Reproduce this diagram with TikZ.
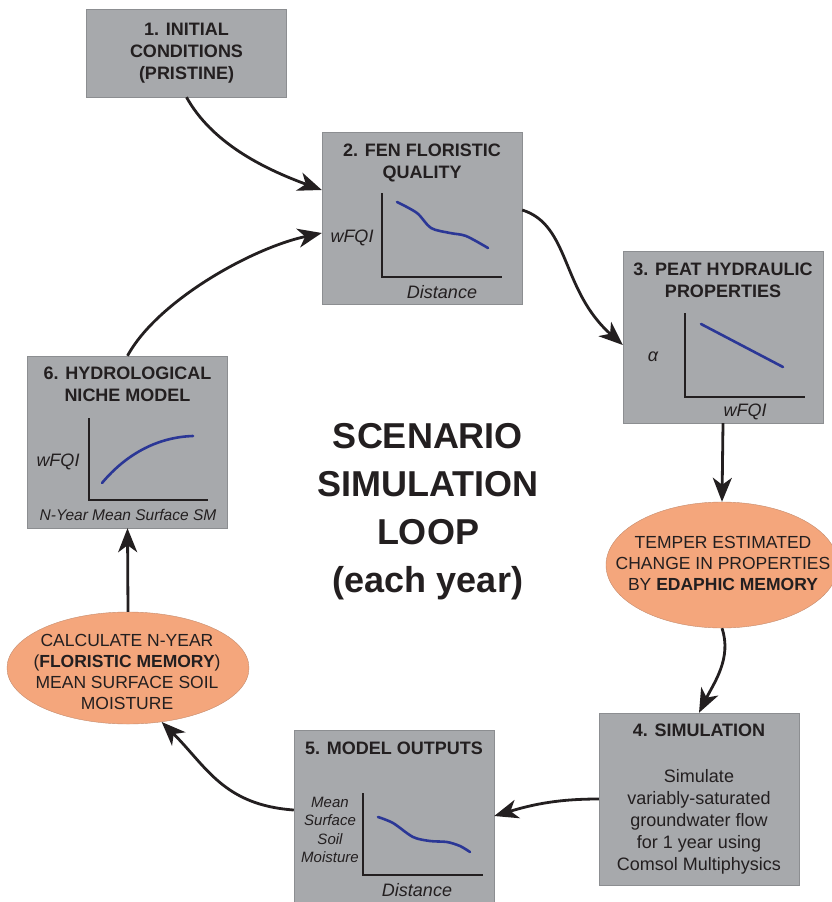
\documentclass[tikz,border=0pt]{standalone}
\usepackage{fontspec}
\setmainfont{Liberation Sans}
\usetikzlibrary{positioning,shapes.geometric,arrows.meta}
\definecolor{panel}{RGB}{167,169,172}
\definecolor{panelline}{RGB}{140,142,145}
\definecolor{memofill}{RGB}{244,166,124}
\definecolor{memoline}{RGB}{196,140,110}
\definecolor{trendblue}{RGB}{43,55,150}
\definecolor{ink}{RGB}{35,31,32}

\begin{document}
\begin{tikzpicture}[
  x=1pt, y=-1pt,
  box/.style={draw=panelline, fill=panel, minimum width=200pt, minimum height=172pt, inner sep=0pt},
  memo/.style={ellipse, draw=memoline, fill=memofill, inner sep=0pt},
  title/.style={font=\fontsize{18}{22}\selectfont\bfseries, text=ink, align=center, inner sep=0pt},
  body/.style={font=\fontsize{18}{22}\selectfont, text=ink, align=center, inner sep=0pt},
  memotext/.style={font=\fontsize{17.5}{21}\selectfont, text=ink, align=center, inner sep=0pt},
  lbl/.style={font=\fontsize{18}{22}\selectfont\itshape, text=ink, align=center, inner sep=0pt},
  axis/.style={line width=1.8pt, ink},
  trend/.style={line width=2.6pt, trendblue, line cap=round},
  arrow/.style={-{Stealth[length=24pt,width=19pt,inset=7pt]}, line width=2.8pt, ink}
]
\useasboundingbox (0,0) rectangle (832,902);

% panels
\node[box, minimum height=88pt] (init) at (186.5,53) {};
\node[box] (fen) at (422,218) {};
\node[box] (peat) at (723,337) {};
\node[box] (sim) at (699,799) {};
\node[box] (outputs) at (394,816) {};
\node[box] (niche) at (127.5,442) {};

% memory steps
\node[memo, minimum width=232pt, minimum height=126pt] (edaphic) at (722,565) {};
\node[memo, minimum width=242pt, minimum height=112pt] (floristic) at (128,668) {};

% titles
\node[title] (inittitle) at (init) {1. INITIAL\\CONDITIONS\\(PRISTINE)};
\node[title, below=12pt of fen.north] (fentitle) {2. FEN FLORISTIC\\QUALITY};
\node[title, below=12pt of peat.north] (peattitle) {3. PEAT HYDRAULIC\\PROPERTIES};
\node[title, below=11pt of sim.north] (simtitle) {4. SIMULATION};
\node[title, below=12pt of outputs.north] (outtitle) {5. MODEL OUTPUTS};
\node[title, below=11pt of niche.north] (nichetitle) {6. HYDROLOGICAL\\NICHE MODEL};

\node[body] (simtext) at (699,822) {Simulate\\variably-saturated\\groundwater flow\\for 1 year using\\Comsol Multiphysics};
\node[memotext] (edaphictext) at (723,563) {TEMPER ESTIMATED\\CHANGE IN PROPERTIES\\BY \textbf{EDAPHIC MEMORY}};
\node[memotext] (floristictext) at (127,672) {CALCULATE N-YEAR\\(\textbf{FLORISTIC MEMORY})\\MEAN SURFACE SOIL\\MOISTURE};

\node[font=\fontsize{36}{48}\selectfont\bfseries, text=ink, align=center] (loop) at (428,512) {SCENARIO\\SIMULATION\\LOOP\\(each year)};

% plot in panel 2
\draw[axis] (382,193) |- (502,277);
\draw[trend] plot[smooth] coordinates {(397,202) (417,213) (431,228) (450,233) (466,236) (488,248)};
\node[lbl] (fenylab) at (352,238) {wFQI};
\node[lbl] (fenxlab) at (442,292) {Distance};

% plot in panel 3
\draw[axis] (685,313) |- (805,397);
\draw[trend] (701,324) -- (783,367);
\node[lbl] (peatylab) at (653,357) {α};
\node[lbl] (peatxlab) at (745,412) {wFQI};

% plot in panel 5
\draw[axis] (363,793) |- (483,875);
\draw[trend] plot[smooth] coordinates {(378,817) (393,823) (413,837) (430,841) (447,842) (460,846) (470,852)};
\node[lbl, font=\fontsize{15}{18.5}\selectfont\itshape] (outylab) at (330,830) {Mean\\Surface\\Soil\\Moisture};
\node[lbl] (outxlab) at (417,890) {Distance};

% plot in panel 6
\draw[axis] (89,418) |- (208,500);
\draw[trend] (102,483) .. controls (128,452) and (160,437) .. (193,436);
\node[lbl] (nicheylab) at (58,462) {wFQI};
\node[lbl, font=\fontsize{15.5}{19}\selectfont\itshape] (nichexlab) at (128,515) {N-Year Mean Surface SM};

% loop arrows
\draw[arrow] (init.south) .. controls +(25,45) and +(-60,-22) .. ([yshift=28pt]fen.west);
\draw[arrow] ([yshift=8pt]fen.east) .. controls +(48,15) and +(-62,-55) .. ([yshift=-8pt]peat.west);
\draw[arrow] (peat.south) -- (edaphic.north);
\draw[arrow] (edaphic.south) .. controls +(10,30) and +(15,-30) .. (sim.north);
\draw[arrow] (sim.west) .. controls +(-40,0) and +(40,-12) .. (outputs.east);
\draw[arrow] ([yshift=6pt]outputs.west) .. controls +(-70,-5) and +(45,45) .. (floristic.-58);
\draw[arrow] (floristic.north) -- (niche.south);
\draw[arrow] (niche.north) .. controls +(30,-55) and +(-70,15) .. ([yshift=-15pt]fen.west);
\end{tikzpicture}
\end{document}
